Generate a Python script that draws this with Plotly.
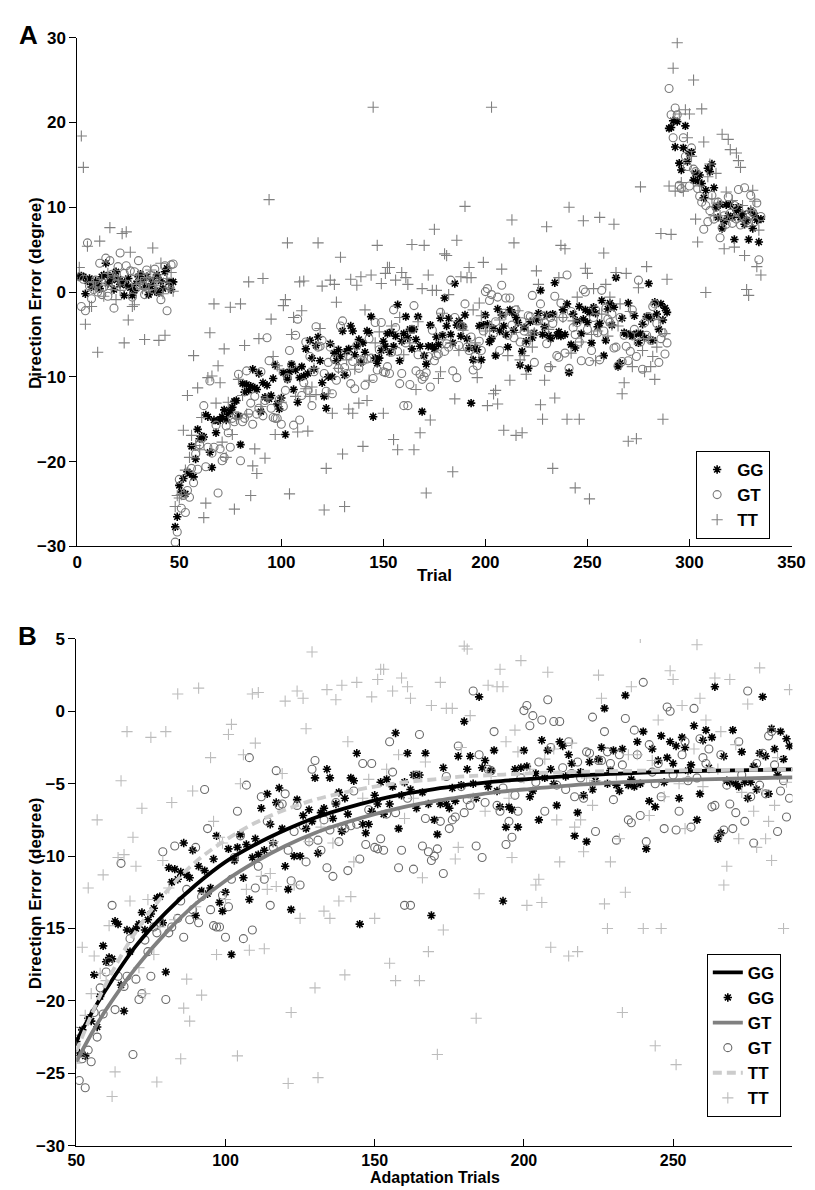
import plotly.graph_objects as go

# ---------------- data ----------------
# baseline trials 1..47
GG_BASE = [1.8, 1.9, 1.8, -0.2, 1.3, 1.6, 0.6, 0.9, 1.3, 1.0,
           0.4, 1.8, 2.0, 3.4, 1.0, 1.9, 1.4, 0.3, 2.4, 1.5,
           0.9, 1.2, -0.4, 0.8, 1.6, 0.5, -0.4, 0.2, 1.0, 1.8,
           2.1, 1.4, 0.6, 1.8, -0.3, 0.7, 1.3, 0.1, 2.0, -0.1,
           1.3, 0.4, 2.4, 2.8, 1.2, 0.3, 1.2]
GT_BASE = [1.8, -1.7, 1.5, -2.2, 5.8, 0.7, -0.8, 0.3, 1.4, 0.0,
           3.4, -0.3, 0.6, 4.0, -0.5, 3.7, 2.1, -1.9, 1.0, 3.0,
           4.6, 1.3, 2.2, 3.1, 0.9, 2.5, -0.6, 2.4, 0.5, 3.7,
           1.9, 0.8, -0.3, 2.6, 1.4, 2.0, 0.3, 2.7, 1.7, 0.1,
           -0.9, 1.6, 3.1, -2.2, 0.7, 3.2, 3.3]
TT_BASE = [2.9, 18.4, 14.7, -3.8, 5.4, -1.7, -1.7, 1.2, 0.6, -7.1,
           6.0, 1.5, -0.5, 0.8, 2.2, 7.6, 0.3, 1.9, -0.9, 1.4,
           0.2, 6.9, -6.0, 7.1, -3.3, 4.7, -1.7, -1.5, 0.9, 2.0,
           1.1, 0.4, -5.6, 1.7, 0.3, 2.6, 5.2, 0.8, 1.2, -5.7,
           3.4, -0.2, -5.1, 1.6, 0.5, 2.3, 0.1]

# adaptation trials 48..289
GG_ADAPT = [-27.7, -26.5, -22.8, -23.6, -22.0, -23.8, -21.2, -21.4, -18.2, -21.8,
            -19.7, -16.2, -17.3, -17.0, -17.1, -14.5, -14.7, -18.9, -20.7, -15.1,
            -16.6, -15.2, -15.0, -14.7, -13.9, -15.1, -14.4, -14.0, -13.6, -12.9,
            -12.8, -14.6, -18.0, -10.8, -11.8, -10.9, -11.6, -11.1, -9.1, -11.3,
            -11.5, -9.6, -14.1, -10.7, -12.4, -11.0, -12.6, -12.2, -10.2, -8.6,
            -13.2, -13.8, -12.5, -9.5, -16.8, -10.3, -9.4, -8.5, -11.5, -9.2,
            -13.0, -10.1, -8.8, -9.9, -6.7, -9.6, -5.7, -7.8, -9.1, -6.3,
            -5.3, -8.1, -10.7, -12.3, -13.7, -10.0, -6.1, -10.0, -7.2, -8.1,
            -6.8, -7.6, -4.6, -9.8, -7.0, -6.7, -4.0, -4.6, -7.4, -6.4,
            -5.6, -8.3, -6.0, -7.1, -4.6, -4.8, -2.9, -14.7, -7.8, -8.4,
            -7.8, -6.9, -5.8, -6.4, -4.9, -7.1, -4.7, -6.4, -5.2, -1.5,
            -8.1, -5.8, -4.9, -2.9, -5.4, -4.4, -6.7, -4.4, -5.6, -2.9,
            -6.4, -14.1, -7.5, -8.5, -6.4, -3.9, -6.4, -6.7, -5.3, -6.2,
            -3.1, -5.1, -0.7, -4.0, -3.1, -5.0, -6.0, 1.0, -3.9, -3.4,
            -5.2, -4.1, -2.7, -5.5, -6.6, -13.1, -8.0, -6.6, -6.8, -4.0,
            -8.0, -3.9, -2.7, -3.8, -5.9, -5.5, -4.3, -7.5, -2.0, -4.6,
            -2.7, -4.0, -5.0, -6.5, -2.1, -2.4, -4.5, -3.0, -3.6, -8.6,
            -7.0, -4.2, -5.8, -9.0, -3.5, -5.4, -4.8, -3.3, -2.5, 0.2,
            -5.0, -4.1, -2.7, -5.1, -5.5, -2.6, 1.1, -5.1, -4.7, -5.2,
            -2.1, -5.0, -1.4, -9.5, -6.2, -2.6, -6.6, -3.4, -1.7, -4.9,
            -3.2, -2.1, -3.6, -2.4, -6.0, -1.8, -2.5, -4.1, -3.7, -1.0,
            -7.5, -5.7, -2.0, -1.3, -3.9, -1.8, 1.7, -8.8, -8.4, -3.1,
            -4.8, -4.9, -1.3, -5.0, -5.2, -2.8, -4.9, -6.0, -4.9, -3.8,
            -5.4, -2.9, 1.0, -3.1, -5.7, -1.2, -2.6, -4.4, -1.4, -3.3,
            -1.9, -2.4]
GT_ADAPT = [-29.5, -28.3, -22.1, -25.5, -24.0, -26.0, -23.4, -24.2, -20.8, -22.5,
            -19.1, -20.9, -18.0, -17.3, -13.4, -20.6, -18.3, -10.5, -19.0, -18.3,
            -15.7, -23.7, -18.5, -19.9, -19.5, -15.8, -16.6, -18.3, -14.9, -15.3,
            -14.6, -9.7, -19.9, -15.3, -14.9, -9.3, -14.3, -13.1, -15.6, -12.3,
            -14.4, -13.7, -9.4, -14.6, -12.8, -5.4, -8.1, -13.7, -14.8, -14.9,
            -14.9, -12.7, -15.6, -13.5, -11.6, -10.1, -6.9, -8.6, -15.7, -5.1,
            -3.2, -15.1, -12.2, -10.7, -5.9, -11.6, -7.6, -13.4, -9.4, -4.1,
            -6.5, -6.4, -5.7, -9.6, -11.7, -8.3, -6.5, -12.0, -7.9, -10.4,
            -9.0, -4.0, -3.4, -8.9, -9.6, -7.5, -10.8, -8.2, -11.4, -6.3,
            -9.0, -8.0, -8.1, -11.0, -7.9, -5.5, -7.8, -10.2, -3.6, -9.2,
            -6.8, -3.6, -9.4, -9.5, -8.8, -9.6, -7.1, -2.1, -4.2, -7.0,
            -10.8, -9.6, -13.4, -6.0, -13.4, -10.9, -4.4, -1.6, -9.3, -7.4,
            -9.7, -10.3, -10.0, -9.5, -7.6, -11.2, -4.5, -8.1, -7.5, -7.3,
            -2.4, -5.2, -7.0, -6.1, -6.5, 1.4, -9.3, -3.0, -10.1, -6.3,
            -4.0, -4.1, -1.4, -6.5, -6.9, -5.3, -9.2, -7.6, -8.7, -5.8,
            -6.9, -4.6, 0.05, 0.4, -1.0, -0.3, -4.9, -3.5, -0.6, -6.9,
            0.8, -2.5, -0.7, -5.1, -0.7, -3.9, -5.4, -2.1, -4.3, -5.9,
            -3.5, -4.6, -6.0, -2.8, -2.9, -0.4, -8.3, -3.4, -3.4, -1.4,
            -2.8, -3.6, -6.1, -8.9, -3.0, -3.7, -0.5, -7.5, -7.7, -1.3,
            -3.0, -7.2, 2.0, -9.0, -2.3, -4.2, -5.0, -3.6, -5.9, -8.1,
            0.3, 0.0, -4.4, -8.2, -6.9, -3.0, -2.1, -4.8, -8.0, 0.2,
            -4.6, -1.9, -3.2, -3.6, -2.6, -6.6, -6.5, -8.7, -3.0, -8.2,
            -5.1, -6.4, -8.1, -7.0, -2.1, -4.4, -7.6, 1.4, -5.9, -9.1,
            -3.6, -5.1, -2.9, -5.7, -1.7, -1.4, -3.7, -8.3, -5.5, -4.8,
            -7.3, -6.0]
TT_ADAPT = [-25.3, -24.0, -24.3, -23.9, -16.3, -21.0, -12.2, -19.5, -16.9, -7.5,
            -18.1, -11.3, -18.6, -14.8, -26.6, -24.9, -10.1, -4.8, -9.9, -1.4,
            -13.1, -8.7, -10.7, -17.7, -6.7, -19.5, -13.0, -1.8, -16.8, -25.6,
            -14.9, -10.3, -1.4, -12.2, -6.3, -14.4, 1.2, -24.0, -20.5, -18.5,
            -21.4, -5.5, -13.5, 1.6, -19.6, -12.6, 10.9, -3.2, -7.6, -16.8,
            -8.7, -9.1, -13.0, -1.6, -0.9, 5.8, -23.8, -5.0, -3.0, -12.3,
            -16.5, 1.2, -2.2, 1.3, -11.4, -16.4, -12.3, -11.2, -9.0, -12.1,
            5.8, -4.3, 0.7, -25.7, -20.8, -12.0, 1.4, -14.3, 0.9, -1.2,
            -9.0, 4.1, -19.1, -25.3, -8.0, -13.8, 1.5, -14.3, -9.1, 0.8,
            -13.1, 1.8, -18.2, -2.1, -12.8, -10.4, 2.0, 21.8, -6.0, 5.5,
            -4.7, 1.0, -14.3, 2.2, 2.9, 2.9, -4.0, -17.4, 1.4, -18.6,
            -3.0, 2.3, -7.4, 1.7, 0.9, -6.0, 5.6, -18.6, -11.5, -3.5,
            -16.6, 0.4, 5.5, -23.7, 2.0, -15.1, 0.2, 7.4, 0.2, -10.2,
            -9.4, -2.5, 4.5, 4.3, -0.3, -6.0, -21.2, -12.6, 6.1, -6.9,
            1.8, -4.5, 10.1, 1.7, 2.9, 1.7, -2.1, -6.0, -10.1, -1.3,
            -2.8, 3.5, -4.6, -13.4, -4.0, 21.8, -12.0, -11.6, -13.2, -3.3,
            2.7, -16.3, -2.6, -7.5, -10.4, 8.5, 5.8, -16.9, -2.2, -8.0,
            -16.6, -7.5, -9.7, -4.6, -5.1, -6.5, -4.8, 2.5, 0.9, -13.3,
            -15.0, -10.4, 7.7, -4.4, -8.8, -20.8, -12.5, -3.0, 1.7, 5.5,
            -3.0, 5.1, -15.0, 10.0, -7.2, -3.4, -23.1, -0.6, -15.0, -5.9,
            8.4, 2.8, 2.2, -24.4, -5.0, 0.4, -8.1, -4.6, 8.8, -2.6,
            4.6, 0.9, -5.2, -0.6, -3.9, 8.0, 2.3, -4.0, -1.4, -12.0,
            -10.7, 2.2, -17.6, -2.3, -8.8, -5.6, -17.3, 0.5, 12.4, -6.9,
            -9.4, 3.0, -5.5, -8.8, -7.6, -10.3, -6.5, -3.2, 6.9, -15.0,
            -4.9, 1.5]

# post-adaptation trials 290..335
GG_POST = [19.3, 19.4, 20.2, 17.1, 20.1, 15.2, 14.4, 17.0, 19.6, 15.4,
           16.3, 16.5, 13.2, 14.0, 13.1, 13.8, 12.8, 11.1, 12.0, 14.6,
           14.2, 15.1, 12.3, 10.0, 8.8, 10.3, 7.5, 8.3, 10.3, 9.0,
           10.3, 8.8, 6.2, 9.6, 10.0, 8.8, 9.2, 8.0, 8.5, 6.2,
           9.6, 7.5, 9.0, 8.5, 5.9, 8.6]
GT_POST = [24.0, 20.9, 18.2, 21.7, 20.9, 12.6, 12.2, 18.2, 16.0, 14.8,
           12.5, 17.0, 14.5, 14.2, 12.2, 11.3, 10.6, 7.4, 10.2, 8.3,
           9.6, 11.4, 8.6, 10.0, 10.6, 6.4, 7.6, 9.0, 8.0, 11.2,
           9.3, 8.1, 10.2, 8.6, 12.1, 7.9, 9.0, 12.3, 8.4, 8.2,
           11.4, 9.4, 8.3, 10.5, 3.8, 8.9]
TT_POST = [12.5, 6.8, 26.4, 11.9, 29.4, 21.0, 12.9, 11.9, 21.5, 18.2,
           21.0, 16.0, 25.0, 8.6, 5.9, 12.5, 21.6, 17.7, -0.05, 13.6,
           15.1, 11.0, 9.0, 14.0, 10.5, 9.0, 18.6, 5.1, 11.8, 18.0,
           16.8, 10.8, 5.3, 16.4, 15.5, 14.7, 10.2, 4.3, 0.3, -0.4,
           9.6, 12.0, 10.7, 3.0, 7.3, 2.0]

FIRST_TRIAL = 1
ADAPT_START = 48
B_FIRST_TRIAL = 50

# exponential fit curves of panel B, read at these trials
FIT_X = [50, 55, 60, 70, 80, 90, 100, 110, 120, 130, 140, 150, 160, 170, 180,
         190, 200, 220, 240, 260, 290]
FIT_GG = [-22.8, -20.9, -19.2, -16.2, -13.9, -12.0, -10.4, -9.2, -8.2, -7.35,
          -6.7, -6.15, -5.7, -5.37, -5.1, -4.86, -4.7, -4.41, -4.23, -4.12, -4.01]
FIT_GT = [-24.2, -22.3, -20.6, -17.7, -15.3, -13.3, -11.7, -10.4, -9.3, -8.4,
          -7.7, -7.1, -6.6, -6.2, -5.9, -5.6, -5.4, -5.05, -4.84, -4.7, -4.56]
FIT_TT = [-23.5, -21.0, -18.8, -15.2, -12.5, -10.4, -8.9, -7.7, -6.8, -6.1,
          -5.6, -5.2, -4.9, -4.7, -4.5, -4.4, -4.3, -4.17, -4.1, -4.06, -4.03]

X_TICKS_A = [0, 50, 100, 150, 200, 250, 300, 350]
X_TICKS_B = [50, 100, 150, 200, 250]

# ---------------- assemble ----------------
all_gg = GG_BASE + GG_ADAPT + GG_POST
all_gt = GT_BASE + GT_ADAPT + GT_POST
all_tt = TT_BASE + TT_ADAPT + TT_POST
trials = list(range(FIRST_TRIAL, FIRST_TRIAL + len(all_gg)))
adapt_trials = list(range(ADAPT_START, ADAPT_START + len(GG_ADAPT)))
k = B_FIRST_TRIAL - ADAPT_START
b_trials = adapt_trials[k:]

W, H = 815, 1190
FONT = "Liberation Sans, Arial, Helvetica, sans-serif"
bold = dict(family=FONT, size=17, color="black", weight="bold")
bold_b = dict(family=FONT, size=16, color="black", weight="bold")


def px_x(p):
    return p / W


def px_y(p):
    return 1 - p / H


fig = go.Figure()

mk_gg = dict(symbol="asterisk", size=7, line=dict(color="black", width=1.6), color="black")

# ----- Panel A -----
fig.add_trace(go.Scatter(x=trials, y=all_gg, mode="markers", name="GG",
                         marker=mk_gg, xaxis="x", yaxis="y", legend="legend"))
fig.add_trace(go.Scatter(x=trials, y=all_gt, mode="markers", name="GT",
                         marker=dict(symbol="circle-open", size=8, color="#7a7a7a",
                                     line=dict(color="#7a7a7a", width=1.1)),
                         xaxis="x", yaxis="y", legend="legend"))
fig.add_trace(go.Scatter(x=trials, y=all_tt, mode="markers", name="TT",
                         marker=dict(symbol="cross-thin", size=8, color="#808080",
                                     line=dict(color="#808080", width=1.1)),
                         xaxis="x", yaxis="y", legend="legend"))

# ----- Panel B -----
fig.add_trace(go.Scatter(x=b_trials, y=GG_ADAPT[k:], mode="markers", name="GG",
                         marker=mk_gg, xaxis="x2", yaxis="y2", legend="legend2",
                         legendrank=2))
fig.add_trace(go.Scatter(x=b_trials, y=GT_ADAPT[k:], mode="markers", name="GT",
                         marker=dict(symbol="circle-open", size=8, color="#6a6a6a",
                                     line=dict(color="#6a6a6a", width=1.1)),
                         xaxis="x2", yaxis="y2", legend="legend2", legendrank=4))
fig.add_trace(go.Scatter(x=b_trials, y=TT_ADAPT[k:], mode="markers", name="TT",
                         marker=dict(symbol="cross-thin", size=8, color="#bcbcbc",
                                     line=dict(color="#bcbcbc", width=1.1)),
                         xaxis="x2", yaxis="y2", legend="legend2", legendrank=6))
fig.add_trace(go.Scatter(x=FIT_X, y=FIT_GT, mode="lines", name="GT",
                         line=dict(color="#808080", width=3.8, shape="spline"),
                         xaxis="x2", yaxis="y2", legend="legend2", legendrank=3))
fig.add_trace(go.Scatter(x=FIT_X, y=FIT_GG, mode="lines", name="GG",
                         line=dict(color="black", width=3.8, shape="spline"),
                         xaxis="x2", yaxis="y2", legend="legend2", legendrank=1))
fig.add_trace(go.Scatter(x=FIT_X, y=FIT_TT, mode="lines", name="TT",
                         line=dict(color="#cccccc", width=3.8, shape="spline", dash="9px,5px"),
                         xaxis="x2", yaxis="y2", legend="legend2", legendrank=5))

axis_common = dict(showline=True, linecolor="black", linewidth=1, showgrid=False,
                   zeroline=False, tickcolor="black", ticklen=7, tickwidth=1)

legend_common = dict(bordercolor="black", borderwidth=1, bgcolor="white",
                     font=dict(family=FONT, size=17, color="black", weight="bold"),
                     traceorder="normal", itemwidth=30, tracegroupgap=0)

fig.update_layout(
    width=W, height=H,
    margin=dict(l=0, r=0, t=0, b=0),
    paper_bgcolor="white", plot_bgcolor="white",
    font=dict(family=FONT, color="black"),
    xaxis=dict(domain=[px_x(62), px_x(797)], range=[0, 350], tickvals=X_TICKS_A,
               ticks="inside", anchor="y", tickfont=bold, **axis_common),
    yaxis=dict(domain=[px_y(538), px_y(21)], range=[-30, 30], dtick=10,
               ticks="outside", anchor="x", tickfont=bold, **axis_common),
    xaxis2=dict(domain=[px_x(61), px_x(798)], range=[50, 290], tickvals=X_TICKS_B,
                ticks="inside", anchor="y2", tickfont=bold_b, **axis_common),
    yaxis2=dict(domain=[px_y(1147), px_y(632)], range=[-30, 5], dtick=5,
                ticks="outside", anchor="x2", tickfont=bold, **axis_common),
    legend=dict(x=px_x(775), xanchor="right", y=px_y(441), yanchor="top",
                **legend_common),
    legend2=dict(x=px_x(786), xanchor="right", y=px_y(952), yanchor="top",
                 **legend_common),
    showlegend=True,
)

big = dict(family=FONT, size=26, color="black", weight="bold")
annots = [
    dict(text="A", x=px_x(12), y=px_y(18), yanchor="middle", font=big),
    dict(text="B", x=px_x(11), y=px_y(629), yanchor="middle", font=big),
    dict(text="Trial", x=px_x(430), y=px_y(568), yanchor="middle", font=bold),
    dict(text="Adaptation Trials", x=px_x(430), y=0.0, yanchor="bottom", font=bold_b),
    dict(text="Direction Error (degree)", x=px_x(19), y=px_y(280), yanchor="middle",
         textangle=-90, font=bold),
    dict(text="Direction Error (degree)", x=px_x(19), y=px_y(890), yanchor="middle",
         textangle=-90, font=bold),
]
for a in annots:
    fig.add_annotation(xref="paper", yref="paper", showarrow=False,
                       xanchor="center", **a)

fig.write_html("out.html")
